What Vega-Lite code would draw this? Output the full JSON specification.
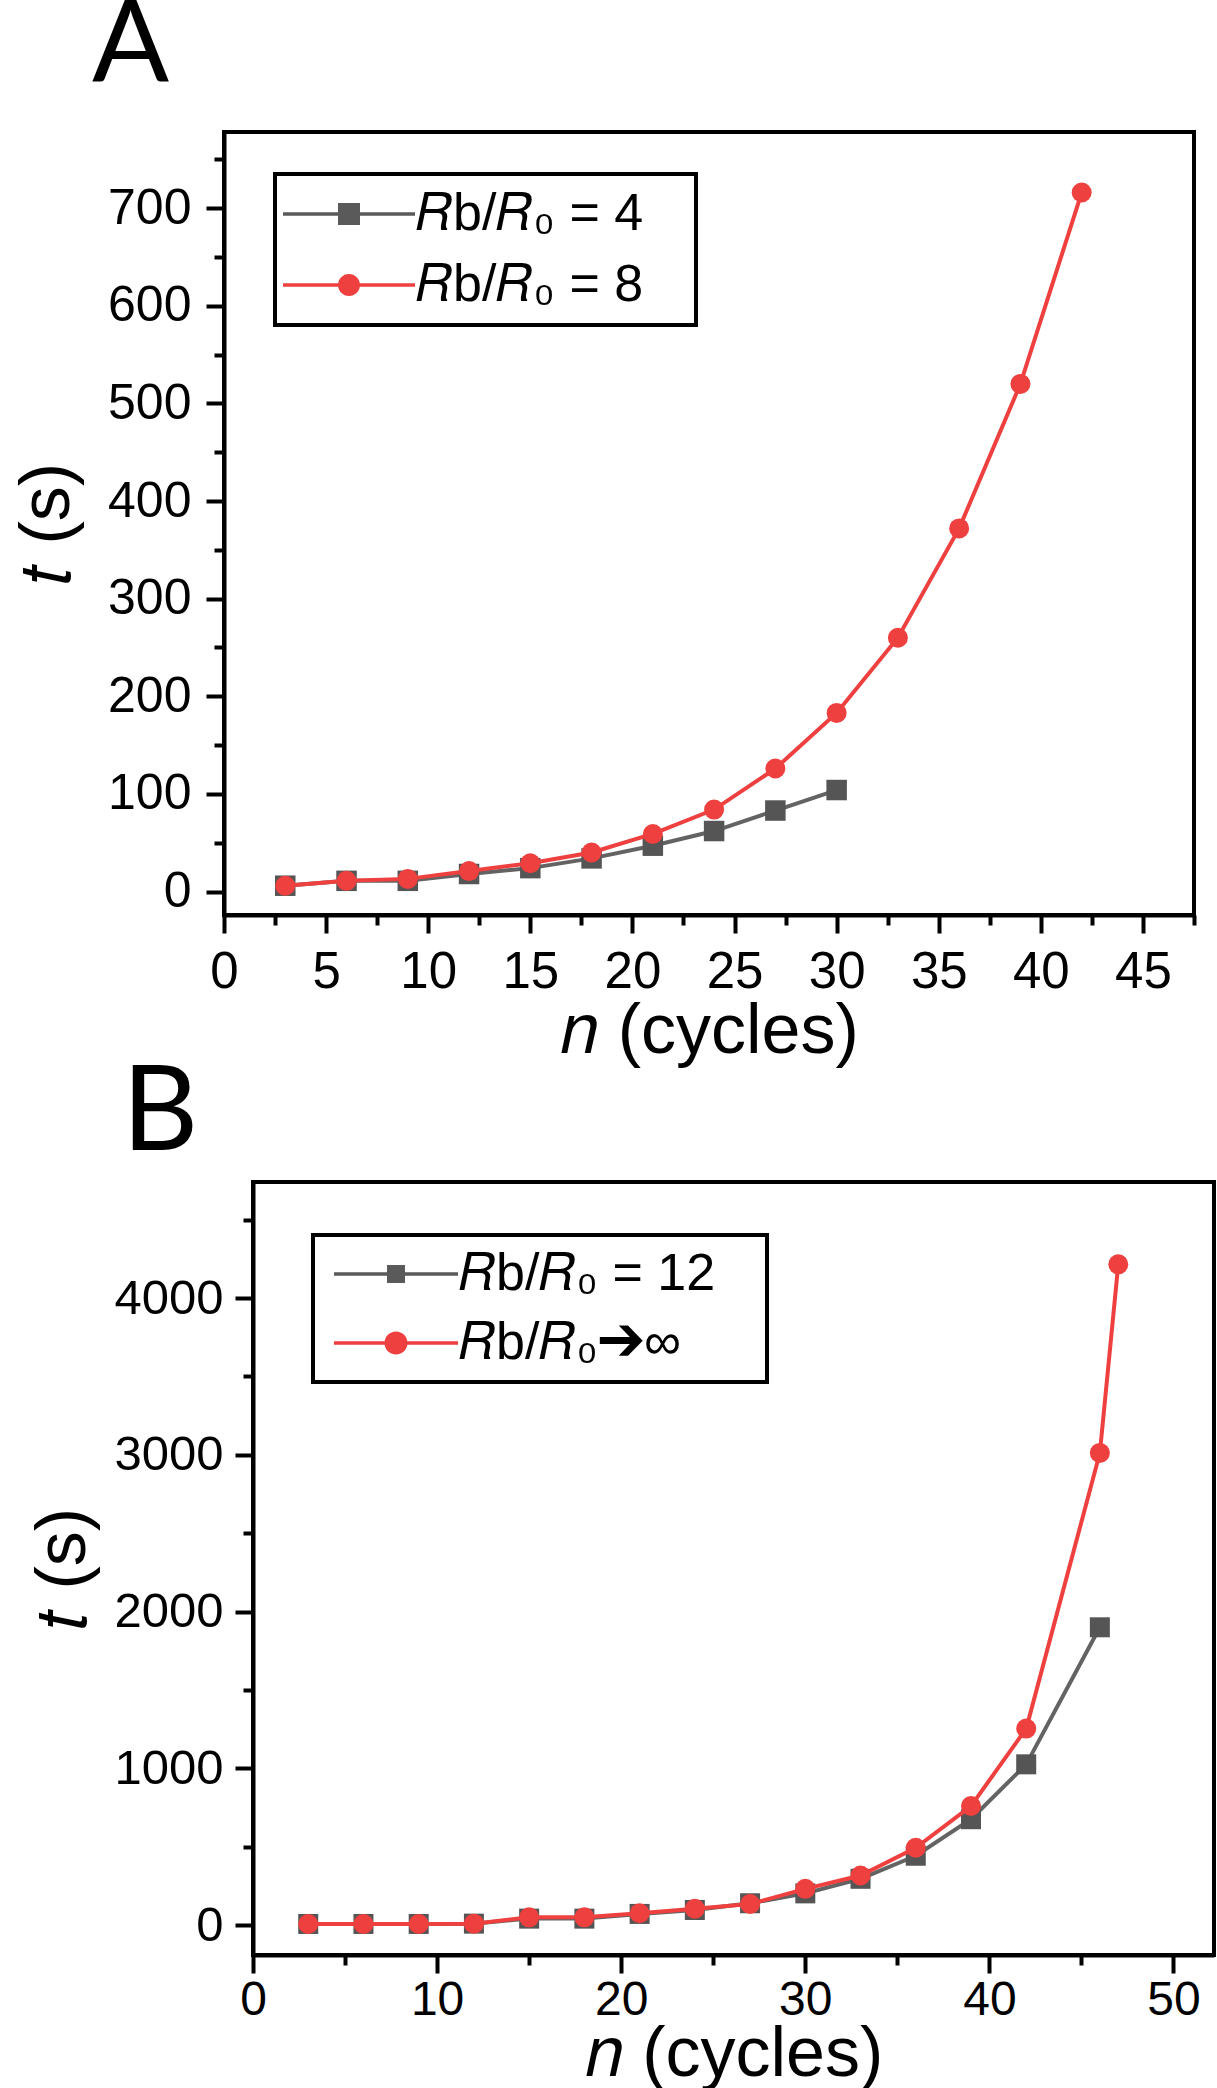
{
  "$schema": "https://vega.github.io/schema/vega-lite/v6.json",
  "background": "white",
  "autosize": {"type": "pad"},
  "padding": {"left": 10, "top": -12, "right": 0, "bottom": 0},
  "datasets": {
    "a": [
      {"s": "g", "n": 3, "t": 6}, {"s": "g", "n": 6, "t": 11}, {"s": "g", "n": 9, "t": 11}, {"s": "g", "n": 12, "t": 18},
      {"s": "g", "n": 15, "t": 24}, {"s": "g", "n": 18, "t": 34}, {"s": "g", "n": 21, "t": 47}, {"s": "g", "n": 24, "t": 62},
      {"s": "g", "n": 27, "t": 83}, {"s": "g", "n": 30, "t": 104},
      {"s": "r", "n": 3, "t": 6}, {"s": "r", "n": 6, "t": 11}, {"s": "r", "n": 9, "t": 13}, {"s": "r", "n": 12, "t": 21},
      {"s": "r", "n": 15, "t": 29}, {"s": "r", "n": 18, "t": 40}, {"s": "r", "n": 21, "t": 59}, {"s": "r", "n": 24, "t": 84},
      {"s": "r", "n": 27, "t": 126}, {"s": "r", "n": 30, "t": 183}, {"s": "r", "n": 33, "t": 260}, {"s": "r", "n": 36, "t": 372},
      {"s": "r", "n": 39, "t": 520}, {"s": "r", "n": 42, "t": 716}
    ],
    "b": [
      {"s": "g", "n": 3, "t": 8}, {"s": "g", "n": 6, "t": 8}, {"s": "g", "n": 9, "t": 8}, {"s": "g", "n": 12, "t": 10},
      {"s": "g", "n": 15, "t": 42}, {"s": "g", "n": 18, "t": 42}, {"s": "g", "n": 21, "t": 72}, {"s": "g", "n": 24, "t": 97},
      {"s": "g", "n": 27, "t": 140}, {"s": "g", "n": 30, "t": 203}, {"s": "g", "n": 33, "t": 296}, {"s": "g", "n": 36, "t": 443},
      {"s": "g", "n": 39, "t": 676}, {"s": "g", "n": 42, "t": 1026}, {"s": "g", "n": 46, "t": 1900},
      {"s": "r", "n": 3, "t": 8}, {"s": "r", "n": 6, "t": 8}, {"s": "r", "n": 9, "t": 8}, {"s": "r", "n": 12, "t": 10},
      {"s": "r", "n": 15, "t": 50}, {"s": "r", "n": 18, "t": 50}, {"s": "r", "n": 21, "t": 76}, {"s": "r", "n": 24, "t": 105},
      {"s": "r", "n": 27, "t": 135}, {"s": "r", "n": 30, "t": 232}, {"s": "r", "n": 33, "t": 317}, {"s": "r", "n": 36, "t": 494},
      {"s": "r", "n": 39, "t": 760}, {"s": "r", "n": 42, "t": 1254}, {"s": "r", "n": 46, "t": 3012}, {"s": "r", "n": 47, "t": 4215}
    ]
  },
  "spacing": 267,
  "bounds": "flush",
  "vconcat": [
    {
      "width": 970,
      "height": 783,
      "title": {"text": "A", "anchor": "start", "frame": "group", "font": "Lato", "fontSize": 114, "fontWeight": "normal", "color": "black", "baseline": "alphabetic", "dx": -132, "offset": 0, "dy": 63},
      "layer": [
        {
          "data": {"name": "a"},
          "transform": [{"filter": "datum.s == 'g'"}],
          "mark": {"type": "line", "strokeWidth": 4, "color": "#636363"},
          "encoding": {
            "x": {"field": "n", "type": "quantitative", "scale": {"domain": [0, 47.5], "nice": false, "zero": false},
              "axis": {"orient": "bottom", "values": [0, 5, 10, 15, 20, 25, 30, 35, 40, 45], "tickSize": 18, "labelPadding": 14, "labelFontSize": 51, "format": "d", "title": "𝑛 (cycles)", "titleFontSize": 70, "titlePadding": 0}},
            "y": {"field": "t", "type": "quantitative", "scale": {"domain": [-24, 778], "nice": false, "zero": false},
              "axis": {"orient": "left", "values": [0, 100, 200, 300, 400, 500, 600, 700], "tickSize": 18, "labelPadding": 15, "labelFontSize": 50, "format": "d", "title": "𝑡 (s)", "titleFontSize": 70, "titlePadding": 24}}
          }
        },
        {
          "data": {"name": "a"},
          "transform": [{"filter": "datum.s == 'g'"}],
          "mark": {"type": "point", "shape": "square", "filled": true, "size": 420, "opacity": 1, "color": "#555555"},
          "encoding": {
            "x": {"field": "n", "type": "quantitative", "scale": {"domain": [0, 47.5], "nice": false, "zero": false},
              "axis": {"orient": "bottom", "values": [2.5, 7.5, 12.5, 17.5, 22.5, 27.5, 32.5, 37.5, 42.5, 47.5], "labels": false, "domain": false, "tickSize": 10, "title": null}},
            "y": {"field": "t", "type": "quantitative", "scale": {"domain": [-24, 778], "nice": false, "zero": false},
              "axis": {"orient": "left", "values": [50, 150, 250, 350, 450, 550, 650, 750], "labels": false, "domain": false, "tickSize": 10, "title": null}}
          }
        },
        {
          "data": {"name": "a"},
          "transform": [{"filter": "datum.s == 'r'"}],
          "mark": {"type": "line", "strokeWidth": 4, "color": "#ef4040"},
          "encoding": {
            "x": {"field": "n", "type": "quantitative", "scale": {"domain": [0, 47.5], "nice": false, "zero": false}, "axis": null},
            "y": {"field": "t", "type": "quantitative", "scale": {"domain": [-24, 778], "nice": false, "zero": false}, "axis": null}
          }
        },
        {
          "data": {"name": "a"},
          "transform": [{"filter": "datum.s == 'r'"}],
          "mark": {"type": "point", "shape": "circle", "filled": true, "size": 400, "opacity": 1, "color": "#ef4040"},
          "encoding": {
            "x": {"field": "n", "type": "quantitative", "scale": {"domain": [0, 47.5], "nice": false, "zero": false}, "axis": null},
            "y": {"field": "t", "type": "quantitative", "scale": {"domain": [-24, 778], "nice": false, "zero": false}, "axis": null}
          }
        },
        {
          "data": {"name": "a"},
          "mark": {"type": "point", "filled": true, "opacity": 0},
          "encoding": {
            "x": {"field": "n", "type": "quantitative", "scale": {"domain": [0, 47.5], "nice": false, "zero": false}, "axis": null},
            "y": {"field": "t", "type": "quantitative", "scale": {"domain": [-24, 778], "nice": false, "zero": false}, "axis": null},
            "fill": {"field": "s", "type": "nominal", "scale": {"domain": ["g", "r"], "range": ["#5a5a5a", "#ef4040"]},
              "legend": {"title": null, "orient": "none", "legendX": 51, "legendY": 42, "strokeColor": "black", "fillColor": "white", "padding": 14, "rowPadding": 19, "symbolSize": 484, "symbolStrokeWidth": 0, "symbolOffset": 34, "labelOffset": 41, "labelFontSize": 52, "labelFont": "Liberation Sans", "labelColor": "black", "labelLimit": 0, "symbolOpacity": 1, "labelExpr": "datum.value == 'g' ? '𝑅b/𝑅₀ = 4\u2800' : '𝑅b/𝑅₀ = 8\u2800'"}},
            "shape": {"field": "s", "type": "nominal", "scale": {"domain": ["g", "r"], "range": ["M-6,-0.16H6V0.16H-6ZM-1,-1H1V1H-1Z", "M-6,-0.16H6V0.16H-6ZM1,0A1,1,0,1,1,-1,0A1,1,0,1,1,1,0Z"]},
              "legend": {"title": null, "orient": "none", "legendX": 51, "legendY": 42, "strokeColor": "black", "fillColor": "white", "padding": 14, "rowPadding": 19, "symbolSize": 484, "symbolStrokeWidth": 0, "symbolOffset": 34, "labelOffset": 41, "labelFontSize": 52, "labelFont": "Liberation Sans", "labelColor": "black", "labelLimit": 0, "symbolOpacity": 1, "labelExpr": "datum.value == 'g' ? '𝑅b/𝑅₀ = 4\u2800' : '𝑅b/𝑅₀ = 8\u2800'"}}
          }
        }
      ],
      "resolve": {"axis": {"x": "independent", "y": "independent"}}
    },
    {
      "spacing": 0,
      "bounds": "flush",
      "hconcat": [
        {
          "width": 29,
          "height": 773,
          "data": {"values": [{"k": 1}]},
          "mark": {"type": "point", "opacity": 0},
          "view": {"stroke": null}
        },
        {
          "width": 961,
          "height": 773,
          "title": {"text": "B", "anchor": "start", "frame": "group", "font": "Lato", "fontSize": 118, "fontWeight": "normal", "color": "black", "baseline": "alphabetic", "dx": -131, "offset": 0, "dy": 86},
          "layer": [
            {
              "data": {"name": "b"},
              "transform": [{"filter": "datum.s == 'g'"}],
              "mark": {"type": "line", "strokeWidth": 4, "color": "#636363"},
              "encoding": {
                "x": {"field": "n", "type": "quantitative", "scale": {"domain": [0, 52.2], "nice": false, "zero": false},
                  "axis": {"orient": "bottom", "values": [0, 10, 20, 30, 40, 50], "tickSize": 18, "labelPadding": 3, "labelFontSize": 48, "format": "d", "title": "𝑛 (cycles)", "titleFontSize": 70, "titlePadding": -4}},
                "y": {"field": "t", "type": "quantitative", "scale": {"domain": [-190, 4740], "nice": false, "zero": false},
                  "axis": {"orient": "left", "values": [0, 1000, 2000, 3000, 4000], "tickSize": 18, "labelPadding": 12, "labelFontSize": 49, "format": "d", "title": "𝑡 (s)", "titleFontSize": 70, "titlePadding": 14}}
              }
            },
            {
              "data": {"name": "b"},
              "transform": [{"filter": "datum.s == 'g'"}],
              "mark": {"type": "point", "shape": "square", "filled": true, "size": 400, "opacity": 1, "color": "#555555"},
              "encoding": {
                "x": {"field": "n", "type": "quantitative", "scale": {"domain": [0, 52.2], "nice": false, "zero": false},
                  "axis": {"orient": "bottom", "values": [5, 15, 25, 35, 45], "labels": false, "domain": false, "tickSize": 10, "title": null}},
                "y": {"field": "t", "type": "quantitative", "scale": {"domain": [-190, 4740], "nice": false, "zero": false},
                  "axis": {"orient": "left", "values": [500, 1500, 2500, 3500, 4500], "labels": false, "domain": false, "tickSize": 10, "title": null}}
              }
            },
            {
              "data": {"name": "b"},
              "transform": [{"filter": "datum.s == 'r'"}],
              "mark": {"type": "line", "strokeWidth": 4, "color": "#ef4040"},
              "encoding": {
                "x": {"field": "n", "type": "quantitative", "scale": {"domain": [0, 52.2], "nice": false, "zero": false}, "axis": null},
                "y": {"field": "t", "type": "quantitative", "scale": {"domain": [-190, 4740], "nice": false, "zero": false}, "axis": null}
              }
            },
            {
              "data": {"name": "b"},
              "transform": [{"filter": "datum.s == 'r'"}],
              "mark": {"type": "point", "shape": "circle", "filled": true, "size": 400, "opacity": 1, "color": "#ef4040"},
              "encoding": {
                "x": {"field": "n", "type": "quantitative", "scale": {"domain": [0, 52.2], "nice": false, "zero": false}, "axis": null},
                "y": {"field": "t", "type": "quantitative", "scale": {"domain": [-190, 4740], "nice": false, "zero": false}, "axis": null}
              }
            },
            {
              "data": {"name": "b"},
              "mark": {"type": "point", "filled": true, "opacity": 0},
              "encoding": {
                "x": {"field": "n", "type": "quantitative", "scale": {"domain": [0, 52.2], "nice": false, "zero": false}, "axis": null},
                "y": {"field": "t", "type": "quantitative", "scale": {"domain": [-190, 4740], "nice": false, "zero": false}, "axis": null},
                "fill": {"field": "s", "type": "nominal", "scale": {"domain": ["g", "r"], "range": ["#5a5a5a", "#ef4040"]},
                  "legend": {"title": null, "orient": "none", "legendX": 89, "legendY": 53, "strokeColor": "black", "fillColor": "white", "padding": 13, "rowPadding": 17, "symbolSize": 400, "symbolStrokeWidth": 0, "symbolOffset": 44, "labelOffset": 37, "labelFontSize": 52, "labelFont": "Liberation Sans", "labelColor": "black", "labelLimit": 0, "symbolOpacity": 1, "labelExpr": "datum.value == 'g' ? '𝑅b/𝑅₀ = 12\u2800' : '𝑅b/𝑅₀➔∞'"}},
                "shape": {"field": "s", "type": "nominal", "scale": {"domain": ["g", "r"], "range": ["M-6.2,-0.17H6.2V0.17H-6.2ZM-0.9,-0.9H0.9V0.9H-0.9Z", "M-6.2,-0.17H6.2V0.17H-6.2ZM1.15,0A1.15,1.15,0,1,1,-1.15,0A1.15,1.15,0,1,1,1.15,0Z"]},
                  "legend": {"title": null, "orient": "none", "legendX": 89, "legendY": 53, "strokeColor": "black", "fillColor": "white", "padding": 13, "rowPadding": 17, "symbolSize": 400, "symbolStrokeWidth": 0, "symbolOffset": 44, "labelOffset": 37, "labelFontSize": 52, "labelFont": "Liberation Sans", "labelColor": "black", "labelLimit": 0, "symbolOpacity": 1, "labelExpr": "datum.value == 'g' ? '𝑅b/𝑅₀ = 12\u2800' : '𝑅b/𝑅₀➔∞'"}}
              }
            }
          ],
          "resolve": {"axis": {"x": "independent", "y": "independent"}}
        }
      ]
    }
  ],
  "resolve": {"scale": {"fill": "independent", "shape": "independent"}, "legend": {"fill": "independent", "shape": "independent"}},
  "config": {
    "view": {"stroke": "black", "strokeWidth": 4},
    "axis": {"domainColor": "black", "domainWidth": 4, "tickColor": "black", "tickWidth": 4, "labelColor": "black", "titleColor": "black", "labelFont": "Liberation Sans", "titleFont": "Liberation Sans", "titleFontWeight": "normal", "grid": false, "labelFlush": false, "labelOverlap": false},
    "legend": {"strokeWidth": 4}
  }
}
